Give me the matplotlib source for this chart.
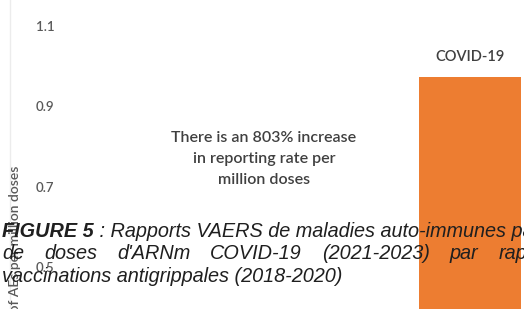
import matplotlib
matplotlib.use("Agg")
import matplotlib.pyplot as plt
from matplotlib.lines import Line2D

# valeurs (taux de signalement par million de doses)
categories = ["Influenza", "COVID-19"]
values = [0.108, 0.973]
bar_colors = ["#4472C4", "#ED7D31"]
y_ticks = [0.5, 0.7, 0.9, 1.1]
y_label = "Reports of AEs per million doses"
note_lines = ["There is an 803% increase", "in reporting rate per", "million doses"]
caption_bold = "FIGURE 5"
caption_rest = " : Rapports VAERS de maladies auto-immunes par million"
caption_line2 = ["de", "doses", "d'ARNm", "COVID-19", "(2021-2023)", "par", "rapport"]
caption_line3 = "vaccinations antigrippales (2018-2020)"

W, H = 524, 309
fig = plt.figure(figsize=(W / 100, H / 100), dpi=100)

# l'axe déborde à droite : seule une partie du graphique est visible
left = 60
ax = fig.add_axes([left / W, 0, 1 - left / W, 1])
ax.set_ylim(0.396, 1.165)
ax.set_xlim(-0.3667, 1.18)
ax.bar(range(len(categories)), values, width=0.34, color=bar_colors, zorder=2)
ax.text(1, values[1] + 0.033, categories[1], ha="center", va="bottom",
        fontsize=10.5, family="Lato", fontweight="semibold", color="#404040")
for s in ax.spines.values():
    s.set_visible(False)
ax.set_xticks([])
ax.set_yticks(y_ticks)
ax.set_yticklabels([f"{t:.1f}" for t in y_ticks], family="Lato",
                   fontsize=9.5, fontweight="semibold", color="#595959")
ax.tick_params(axis="y", length=0, pad=4)

# annotation
for i, line in enumerate(note_lines):
    fig.text(264 / W, 1 - (138 + 21 * i) / H, line, ha="center", va="center",
             fontsize=11.5, family="Lato", fontweight="semibold", color="#404040")

fig.text(15 / W, 1 - 166 / H, y_label, rotation=90, ha="center", va="top",
         fontsize=10, family="Lato", fontweight="semibold", color="#595959")

# trait clair à gauche
fig.add_artist(Line2D([10 / W, 10 / W], [0, 1], color="#ececec", lw=1))

# légende superposée
fs = 14.3
cap_color = "#1f1f1f"
renderer = fig.canvas.get_renderer()
x0 = 2
t1 = fig.text(x0 / W, 1 - 237 / H, caption_bold, fontsize=fs, family="Liberation Sans",
              style="italic", fontweight="bold", color=cap_color, va="baseline")
bb = t1.get_window_extent(renderer)
fig.text(bb.x1 / W, 1 - 237 / H, caption_rest, fontsize=fs, family="Liberation Sans",
         style="italic", color=cap_color, va="baseline")

gap = 20
x = x0
for word in caption_line2:
    t = fig.text(x / W, 1 - 259 / H, word, fontsize=fs, family="Liberation Sans",
                 style="italic", color=cap_color, va="baseline")
    x = t.get_window_extent(renderer).x1 + gap

fig.text(x0 / W, 1 - 282 / H, caption_line3, fontsize=fs, family="Liberation Sans",
         style="italic", color=cap_color, va="baseline")

fig.savefig("out.png", dpi=100)
